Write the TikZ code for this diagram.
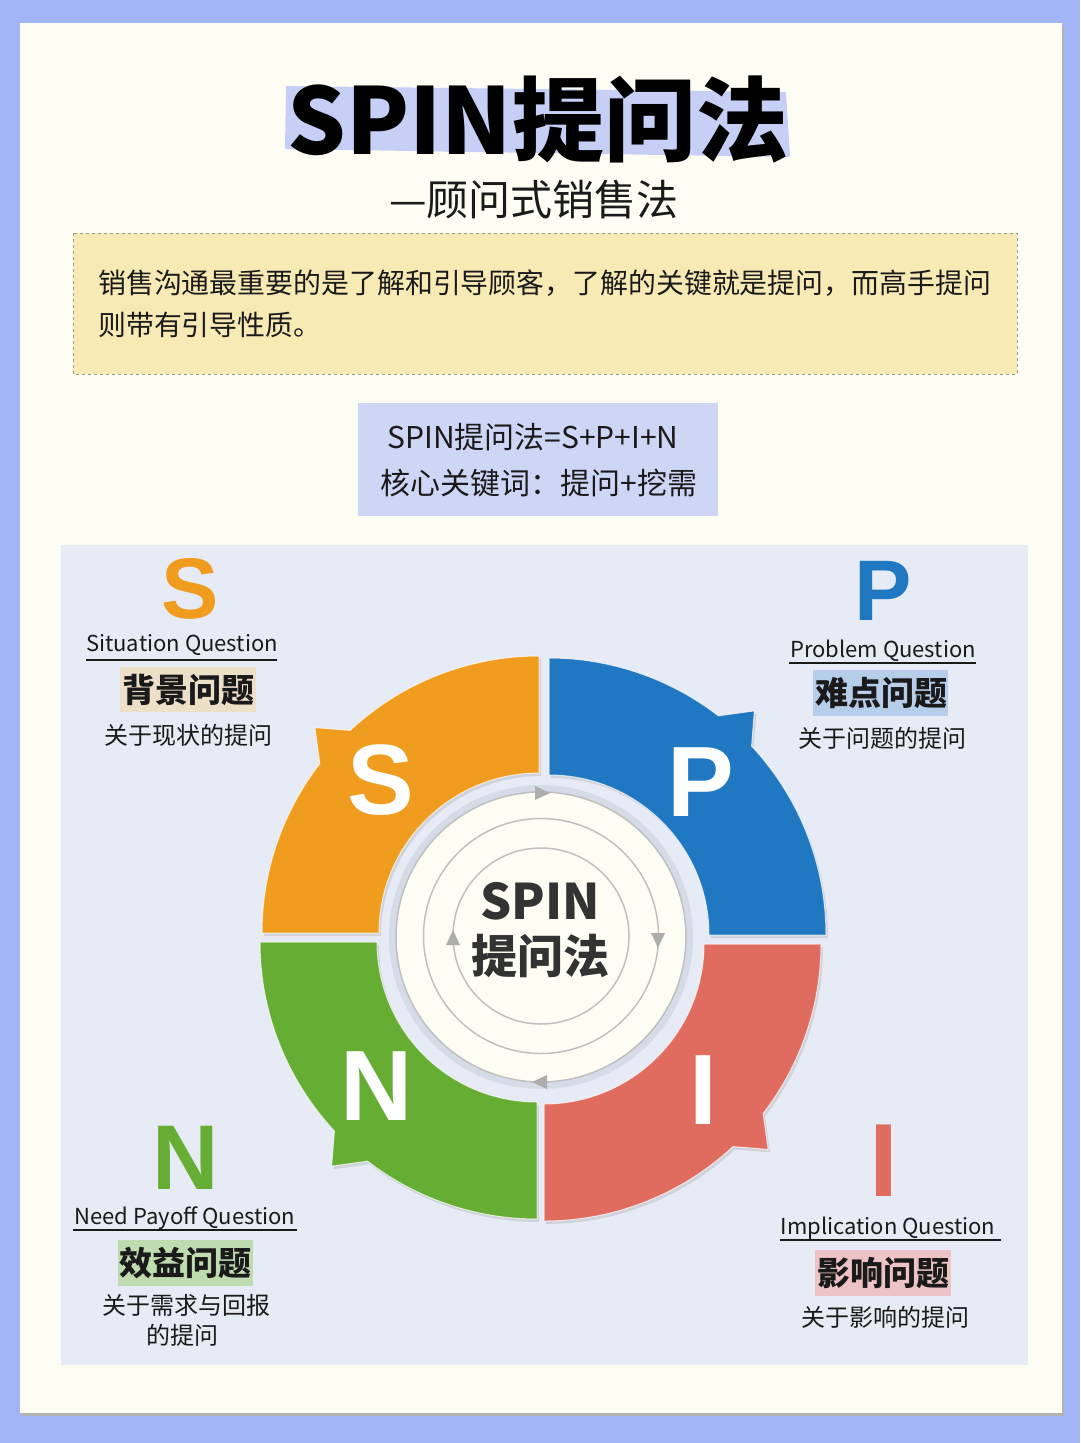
\documentclass[tikz,border=0pt]{standalone}
\usepackage{fontspec}
\setmainfont{Noto Sans CJK SC}
\newfontfamily\cjk{Noto Sans CJK SC}
\newfontfamily\lsans{Liberation Sans}
\usetikzlibrary{shadows}
\definecolor{outerblue}{RGB}{164,181,247}
\definecolor{cream}{RGB}{253,253,244}
\definecolor{titlehl}{RGB}{198,208,246}
\definecolor{yelbox}{RGB}{248,234,181}
\definecolor{bluebox}{RGB}{205,214,245}
\definecolor{panel}{RGB}{231,235,245}
\definecolor{sorange}{RGB}{240,156,31}
\definecolor{pblue}{RGB}{31,120,193}
\definecolor{ired}{RGB}{224,108,95}
\definecolor{ngreen}{RGB}{102,173,51}
\definecolor{hlS}{RGB}{238,223,201}
\definecolor{hlP}{RGB}{182,206,234}
\definecolor{hlN}{RGB}{190,220,175}
\definecolor{hlI}{RGB}{237,195,198}
\definecolor{ringgray}{RGB}{192,192,192}
\definecolor{diskring}{RGB}{214,219,232}
\definecolor{txt}{RGB}{26,26,26}
\newcommand\myfs[1]{\fontsize{#1}{#1}\selectfont}
\newcommand\spinseg[4]{%
  \path[segstyle, fill=#4, shift={(#1,#2)}]
    (#3:160) -- (#3:277)
    arc[start angle=#3, end angle={#3+37.7}, radius=277]
    -- ({#3+42.5}:304) -- ({#3+47}:277)
    arc[start angle={#3+47}, end angle={#3+90}, radius=277]
    -- ({#3+90}:160)
    arc[start angle={#3+90}, end angle=#3, radius=160] -- cycle;}
\tikzset{
  segstyle/.style={draw=white, draw opacity=0.7, line width=1pt,
    drop shadow={opacity=0.22, shadow xshift=2pt, shadow yshift=-3pt}},
  seglet/.style={text=white, inner sep=0pt, font=\lsans\bfseries\myfs{100}},
  biglet/.style={inner sep=0pt, font=\lsans\bfseries\myfs{86}},
  enlab/.style={inner sep=0pt, text=txt, font=\cjk\myfs{22}},
  cnhead/.style={inner sep=0pt, text=txt, font=\cjk\bfseries\myfs{33}},
  cndesc/.style={inner sep=0pt, text=txt, font=\cjk\myfs{24}},
  ringline/.style={draw=ringgray, line width=1.5pt},
  arrhead/.style={fill=ringgray!90!black}
}
\begin{document}
\begin{tikzpicture}[x=1pt,y=-1pt]
\useasboundingbox (0,0) rectangle (1080,1443);
% frame
\fill[outerblue] (0,0) rectangle (1080,1443);
\fill[black!30] (22,26) rectangle (1064,1416);
\fill[cream] (20,23) rectangle (1062,1413);
% title
\fill[titlehl] (286,86) -- (786,92) -- (790,157) -- (285,149) -- cycle;
\node[inner sep=0pt, font=\cjk\bfseries\myfs{92}, text=black] (title) at (538,120) {SPIN提问法};
\node[inner sep=0pt, font=\cjk\myfs{42}, text=txt] (subtitle) at (534,200) {—顾问式销售法};
% yellow box
\draw[fill=yelbox, draw=black!40, dashed, line width=0.8pt] (73,233) rectangle (1017,374);
\node[anchor=west, inner sep=0pt, font=\cjk\myfs{27.9}, text=txt] (intro1) at (98,283) {销售沟通最重要的是了解和引导顾客，了解的关键就是提问，而高手提问};
\node[anchor=west, inner sep=0pt, font=\cjk\myfs{27.9}, text=txt] (intro2) at (98,325) {则带有引导性质。};
% blue box
\fill[bluebox] (358,403) rectangle (718,516);
\node[inner sep=0pt, font=\cjk\myfs{30}, text=txt] (formula) at (533,437) {SPIN提问法=S+P+I+N};
\node[inner sep=0pt, font=\cjk\myfs{30}, text=txt] (keyword) at (539,483) {核心关键词：提问+挖需};
% panel
\fill[panel] (61,545) rectangle (1028,1365);
% segments
\spinseg{539}{933}{180}{sorange}
\spinseg{549}{935}{270}{pblue}
\spinseg{544}{944}{0}{ired}
\spinseg{537}{942}{90}{ngreen}
\node[seglet] (segS) at (381,780) {S};
\node[seglet] (segP) at (701,782) {P};
\node[seglet] (segI) at (703,1090) {I};
\node[seglet] (segN) at (377,1086) {N};
% center disk
\fill[diskring] (541,937) circle[radius=152];
\draw[fill=cream, ringline] (541,937) circle[radius=145];
\draw[ringline] (541,936) circle[radius=117.5];
\draw[ringline] (541,936) circle[radius=88];
\fill[arrhead] (550,793) -- (535,786) -- (535,800) -- cycle;
\fill[arrhead] (658,948) -- (651,933) -- (665,933) -- cycle;
\fill[arrhead] (532,1082) -- (547,1075) -- (547,1089) -- cycle;
\fill[arrhead] (453,930) -- (446,945) -- (460,945) -- cycle;
\node[inner sep=0pt, font=\cjk\bfseries\myfs{49}, text=black!80] (cspin) at (540,901) {SPIN};
\node[inner sep=0pt, font=\cjk\bfseries\myfs{46}, text=black!80] (cfa) at (540,956) {提问法};
% S label
\node[biglet, text=sorange] (bigS) at (190,589) {S};
\node[enlab] (enS) at (182,645) {Situation Question};
\draw[txt, line width=1.2pt] (86,660) -- (277,660);
\fill[hlS] (120,667) rectangle (256,712);
\node[cnhead] (cnS) at (188,690) {背景问题};
\node[cndesc] (dS) at (188,735) {关于现状的提问};
% P label
\node[biglet, text=pblue] (bigP) at (883,591) {P};
\node[enlab] (enP) at (883,651) {Problem Question};
\draw[txt, line width=1.2pt] (789,663) -- (976,663);
\fill[hlP] (813,670) rectangle (948,716);
\node[cnhead] (cnP) at (881,693) {难点问题};
\node[cndesc] (dP) at (882,738) {关于问题的提问};
% N label
\node[biglet, text=ngreen, font=\lsans\bfseries\myfs{92}] (bigN) at (186,1158) {N};
\node[enlab] (enN) at (185,1218) {Need Payoff Question};
\draw[txt, line width=1.2pt] (73,1230) -- (297,1230);
\fill[hlN] (118,1240) rectangle (253,1286);
\node[cnhead] (cnN) at (185,1263) {效益问题};
\node[cndesc] (dN1) at (186,1305) {关于需求与回报};
\node[cndesc] (dN2) at (182,1335) {的提问};
% I label
\node[biglet, text=ired, font=\lsans\bfseries\myfs{104}] (bigI) at (884,1161) {I};
\node[enlab] (enI) at (888,1228) {Implication Question};
\draw[txt, line width=1.2pt] (780,1240) -- (1001,1240);
\fill[hlI] (815,1250) rectangle (951,1296);
\node[cnhead] (cnI) at (883,1273) {影响问题};
\node[cndesc] (dI) at (885,1317) {关于影响的提问};
\end{tikzpicture}
\end{document}
